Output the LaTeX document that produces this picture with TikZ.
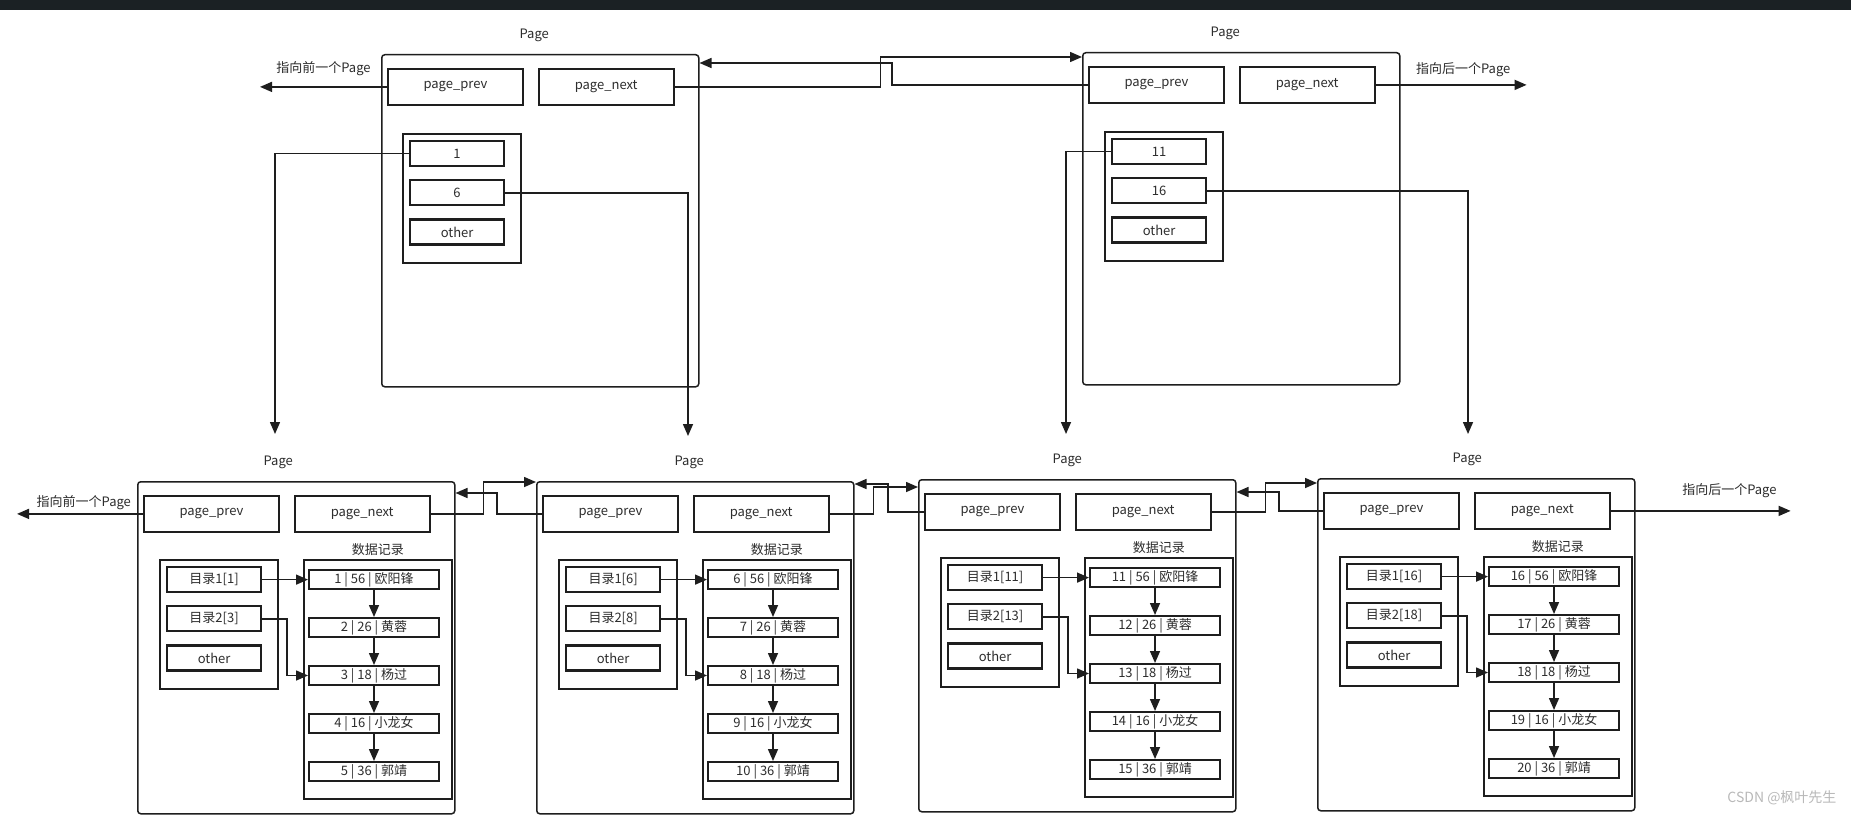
\documentclass[tikz,border=0pt]{standalone}
\usepackage{fontspec}
\setmainfont{Noto Sans CJK SC}
\usepackage{tikz}
\usetikzlibrary{arrows.meta, positioning}
\definecolor{linegray}{RGB}{30, 30, 30}
\definecolor{textgray}{RGB}{45, 45, 45}
\definecolor{barcolor}{RGB}{27, 33, 36}
\definecolor{markgray}{RGB}{185, 185, 185}

\begin{document}
\begin{tikzpicture}[
    x=1pt, y=-1pt,
    font=\fontsize{13}{15}\selectfont,
    pagebox/.style={rectangle, rounded corners=3pt, minimum width=317pt, minimum height=332pt, draw=linegray, line width=1.5pt},
    field/.style={rectangle, minimum width=135pt, minimum height=36pt, inner sep=0pt, draw=linegray, line width=1.8pt, text=textgray},
    dirbox/.style={rectangle, minimum width=118pt, minimum height=129pt, draw=linegray, line width=1.5pt},
    databox/.style={rectangle, minimum width=148pt, minimum height=239pt, draw=linegray, line width=1.5pt},
    entry/.style={rectangle, minimum width=94pt, minimum height=25pt, inner sep=0pt, draw=linegray, line width=2.2pt, text=textgray},
    record/.style={rectangle, minimum width=130pt, minimum height=19pt, inner sep=0pt, draw=linegray, line width=2pt, text=textgray},
    pagelabel/.style={text=textgray},
    wire/.style={draw=linegray, line width=1.5pt},
    arrow/.style={wire, -{Triangle[length=12pt, width=10pt]}}
]

    \useasboundingbox (0,0) rectangle (1851,816);
    \fill[white] (0,0) rectangle (1851,816);
    \fill[barcolor] (0,0) rectangle (1851,10);

    % top row
    \node[pagebox, anchor=north west] (tl) at (381,54) {};
    \node[pagelabel, above=9pt of tl.north, xshift=-6pt] (tllab) {Page};
    \node[field, below right=14pt and 6pt of tl.north west] (tlprev) {page\_prev};
    \node[field, right=14pt of tlprev] (tlnext) {page\_next};
    \node[dirbox, below right=79pt and 21pt of tl.north west] (tldir) {};
    \node[entry, below right=7pt and 7pt of tldir.north west] (tl1) {1};
    \node[entry, below=12pt of tl1] (tl6) {6};
    \node[entry, below=12pt of tl6] (tlother) {other};

    \node[pagebox, anchor=north west] (tr) at (1082,52) {};
    \node[pagelabel, above=9pt of tr.north, xshift=-16pt] (trlab) {Page};
    \node[field, below right=14pt and 6pt of tr.north west] (trprev) {page\_prev};
    \node[field, right=14pt of trprev] (trnext) {page\_next};
    \node[dirbox, below right=79pt and 22pt of tr.north west] (trdir) {};
    \node[entry, below right=7pt and 7pt of trdir.north west] (tr11) {11};
    \node[entry, below=12pt of tr11] (tr16) {16};
    \node[entry, below=12pt of tr16] (trother) {other};

    % page 1
    \node[pagebox, anchor=north west] (p1) at (137,481) {};
    \node[pagelabel, above=9pt of p1.north, xshift=-18pt] (p1lab) {Page};
    \node[field, below right=14pt and 6pt of p1.north west] (p1prev) {page\_prev};
    \node[field, right=14pt of p1prev] (p1next) {page\_next};
    \node[dirbox, below right=78pt and 22pt of p1.north west] (p1dir) {};
    \node[entry, below right=7pt and 7pt of p1dir.north west] (p1e1) {目录1[1]};
    \node[entry, below=12pt of p1e1] (p1e2) {目录2[3]};
    \node[entry, below=12pt of p1e2] (p1e3) {other};
    \node[databox, below right=78pt and 166pt of p1.north west] (p1data) {};
    \node[pagelabel, above=0pt of p1data] (p1datalab) {数据记录};
    \node[record, below right=10pt and 5pt of p1data.north west] (p1r1) {1 | 56 | 欧阳锋};
    \node[record, below=27pt of p1r1] (p1r2) {2 | 26 | 黄蓉};
    \node[record, below=27pt of p1r2] (p1r3) {3 | 18 | 杨过};
    \node[record, below=27pt of p1r3] (p1r4) {4 | 16 | 小龙女};
    \node[record, below=27pt of p1r4] (p1r5) {5 | 36 | 郭靖};

    % page 2
    \node[pagebox, anchor=north west] (p2) at (536,481) {};
    \node[pagelabel, above=9pt of p2.north, xshift=-6pt] (p2lab) {Page};
    \node[field, below right=14pt and 6pt of p2.north west] (p2prev) {page\_prev};
    \node[field, right=14pt of p2prev] (p2next) {page\_next};
    \node[dirbox, below right=78pt and 22pt of p2.north west] (p2dir) {};
    \node[entry, below right=7pt and 7pt of p2dir.north west] (p2e1) {目录1[6]};
    \node[entry, below=12pt of p2e1] (p2e2) {目录2[8]};
    \node[entry, below=12pt of p2e2] (p2e3) {other};
    \node[databox, below right=78pt and 166pt of p2.north west] (p2data) {};
    \node[pagelabel, above=0pt of p2data] (p2datalab) {数据记录};
    \node[record, below right=10pt and 5pt of p2data.north west] (p2r1) {6 | 56 | 欧阳锋};
    \node[record, below=27pt of p2r1] (p2r2) {7 | 26 | 黄蓉};
    \node[record, below=27pt of p2r2] (p2r3) {8 | 18 | 杨过};
    \node[record, below=27pt of p2r3] (p2r4) {9 | 16 | 小龙女};
    \node[record, below=27pt of p2r4] (p2r5) {10 | 36 | 郭靖};

    % page 3
    \node[pagebox, anchor=north west] (p3) at (918,479) {};
    \node[pagelabel, above=9pt of p3.north, xshift=-10pt] (p3lab) {Page};
    \node[field, below right=14pt and 6pt of p3.north west] (p3prev) {page\_prev};
    \node[field, right=14pt of p3prev] (p3next) {page\_next};
    \node[dirbox, below right=78pt and 22pt of p3.north west] (p3dir) {};
    \node[entry, below right=7pt and 7pt of p3dir.north west] (p3e1) {目录1[11]};
    \node[entry, below=12pt of p3e1] (p3e2) {目录2[13]};
    \node[entry, below=12pt of p3e2] (p3e3) {other};
    \node[databox, below right=78pt and 166pt of p3.north west] (p3data) {};
    \node[pagelabel, above=0pt of p3data] (p3datalab) {数据记录};
    \node[record, below right=10pt and 5pt of p3data.north west] (p3r1) {11 | 56 | 欧阳锋};
    \node[record, below=27pt of p3r1] (p3r2) {12 | 26 | 黄蓉};
    \node[record, below=27pt of p3r2] (p3r3) {13 | 18 | 杨过};
    \node[record, below=27pt of p3r3] (p3r4) {14 | 16 | 小龙女};
    \node[record, below=27pt of p3r4] (p3r5) {15 | 36 | 郭靖};

    % page 4
    \node[pagebox, anchor=north west] (p4) at (1317,478) {};
    \node[pagelabel, above=9pt of p4.north, xshift=-9pt] (p4lab) {Page};
    \node[field, below right=14pt and 6pt of p4.north west] (p4prev) {page\_prev};
    \node[field, right=14pt of p4prev] (p4next) {page\_next};
    \node[dirbox, below right=78pt and 22pt of p4.north west] (p4dir) {};
    \node[entry, below right=7pt and 7pt of p4dir.north west] (p4e1) {目录1[16]};
    \node[entry, below=12pt of p4e1] (p4e2) {目录2[18]};
    \node[entry, below=12pt of p4e2] (p4e3) {other};
    \node[databox, below right=78pt and 166pt of p4.north west] (p4data) {};
    \node[pagelabel, above=0pt of p4data] (p4datalab) {数据记录};
    \node[record, below right=10pt and 5pt of p4data.north west] (p4r1) {16 | 56 | 欧阳锋};
    \node[record, below=27pt of p4r1] (p4r2) {17 | 26 | 黄蓉};
    \node[record, below=27pt of p4r2] (p4r3) {18 | 18 | 杨过};
    \node[record, below=27pt of p4r3] (p4r4) {19 | 16 | 小龙女};
    \node[record, below=27pt of p4r4] (p4r5) {20 | 36 | 郭靖};

    \node[text=markgray, font=\fontsize{14}{16}\selectfont, anchor=east] (mark) at (1840,798) {CSDN @枫叶先生};

    % free ends
    \coordinate[left=127pt of tlprev.west] (tlout);
    \coordinate[right=151pt of trnext.east] (trout);
    \coordinate[left=126pt of p1prev.west] (p1out);
    \coordinate[right=180pt of p4next.east] (p4out);
    \coordinate (d1) at (275,434);
    \coordinate (d6) at (688,436);
    \coordinate (d11) at (1066,434);
    \coordinate (d16) at (1468,434);

    % prev / next links
    \draw[arrow] (tlprev.west) -- (tlout) node[pagelabel, midway, above=7pt] (tloutlab) {指向前一个Page};
    \draw[arrow] (trnext.east) -- (trout) node[pagelabel, pos=0.58, above=4pt] (troutlab) {指向后一个Page};
    \draw[arrow] (tlnext.east) -- ++(206,0) |- ([yshift=-5pt]tr.north west);
    \draw[arrow] (trprev.west) -- ++(-196,0) |- ([yshift=-9pt]tl.north east);

    \draw[arrow] (p1prev.west) -- (p1out) node[pagelabel, pos=0.47, above=0pt] (p1outlab) {指向前一个Page};
    \draw[arrow] (p4next.east) -- (p4out) node[pagelabel, pos=0.66, above=9pt] (p4outlab) {指向后一个Page};
    \draw[arrow] (p1next.east) -- ++(53,0) |- ([yshift=-1pt]p2.north west);
    \draw[arrow] (p2prev.west) -- ++(-45,0) |- ([yshift=-12pt]p1.north east);
    \draw[arrow] (p2next.east) -- ++(44,0) |- ([yshift=-8pt]p3.north west);
    \draw[arrow] (p3prev.west) -- ++(-36,0) |- ([yshift=-3pt]p2.north east);
    \draw[arrow] (p3next.east) -- ++(54,0) |- ([yshift=-5pt]p4.north west);
    \draw[arrow] (p4prev.west) -- ++(-44,0) |- ([yshift=-13pt]p3.north east);

    % directory down to pages
    \draw[arrow] (tl1.west) -| (d1);
    \draw[arrow] (tl6.east) -| (d6);
    \draw[arrow] (tr11.west) -| (d11);
    \draw[arrow] (tr16.east) -| (d16);

    % directory to records
    \draw[arrow] (p1e1.east) -- (p1e1.east -| p1r1.west);
    \draw[arrow] (p1e2.east) -- ++(25,0) |- (p1r3.west);
    \draw[arrow] (p2e1.east) -- (p2e1.east -| p2r1.west);
    \draw[arrow] (p2e2.east) -- ++(25,0) |- (p2r3.west);
    \draw[arrow] (p3e1.east) -- (p3e1.east -| p3r1.west);
    \draw[arrow] (p3e2.east) -- ++(25,0) |- (p3r3.west);
    \draw[arrow] (p4e1.east) -- (p4e1.east -| p4r1.west);
    \draw[arrow] (p4e2.east) -- ++(25,0) |- (p4r3.west);

    % record chains
    \draw[arrow] (p1r1) -- (p1r2);
    \draw[arrow] (p1r2) -- (p1r3);
    \draw[arrow] (p1r3) -- (p1r4);
    \draw[arrow] (p1r4) -- (p1r5);
    \draw[arrow] (p2r1) -- (p2r2);
    \draw[arrow] (p2r2) -- (p2r3);
    \draw[arrow] (p2r3) -- (p2r4);
    \draw[arrow] (p2r4) -- (p2r5);
    \draw[arrow] (p3r1) -- (p3r2);
    \draw[arrow] (p3r2) -- (p3r3);
    \draw[arrow] (p3r3) -- (p3r4);
    \draw[arrow] (p3r4) -- (p3r5);
    \draw[arrow] (p4r1) -- (p4r2);
    \draw[arrow] (p4r2) -- (p4r3);
    \draw[arrow] (p4r3) -- (p4r4);
    \draw[arrow] (p4r4) -- (p4r5);

\end{tikzpicture}
\end{document}
